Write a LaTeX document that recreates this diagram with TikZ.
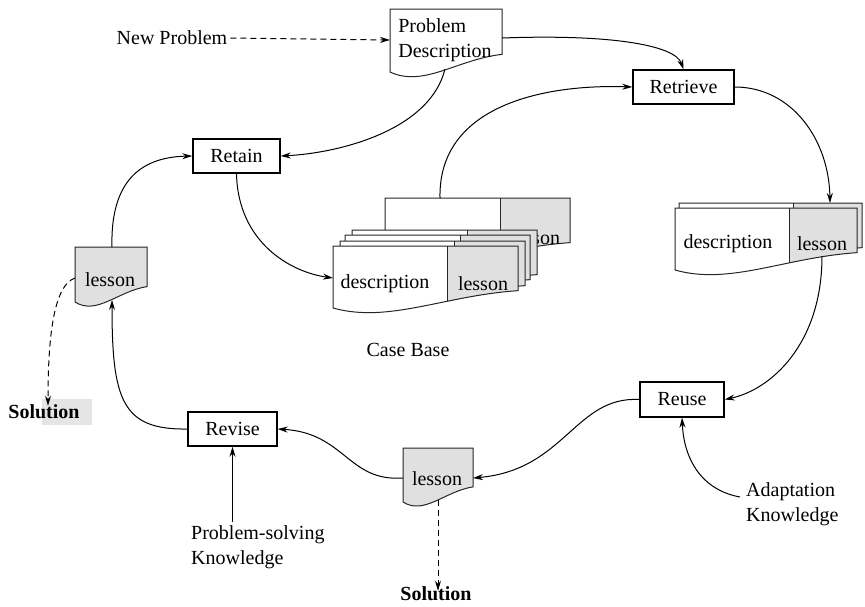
\documentclass[tikz,border=0pt]{standalone}
\usepackage{fontspec}
\setmainfont{Liberation Serif}
\usetikzlibrary{arrows.meta}
\definecolor{lgray}{gray}{0.88}
\definecolor{solgray}{gray}{0.9}
\newcommand\dpath[4]{(#1,#2) -- (#3,#2) -- (#3,{#4-0.28*(#4-#2)}) .. controls ({#1+0.6*(#3-#1)},{#4-0.2*(#4-#2)}) and ({#1+0.3*(#3-#1)},{#4+0.25*(#4-#2)}) .. (#1,#4) -- cycle}
\newcommand\splitdoc[5]{%
  \fill[white] \dpath{#1}{#2}{#3}{#4};
  \begin{scope}
    \clip \dpath{#1}{#2}{#3}{#4};
    \fill[lgray] (#5,#2) rectangle (#3,{#4+40});
    \draw[docline] (#5,#2) -- (#5,{#4+40});
  \end{scope}
  \draw[docline] \dpath{#1}{#2}{#3}{#4};
}
\newcommand\plaindoc[5]{%
  \filldraw[docline, fill=#5] \dpath{#1}{#2}{#3}{#4};
}
\begin{document}
\begin{tikzpicture}[x=1pt,y=-1pt,
  every node/.style={font=\fontsize{20}{25}\selectfont, inner sep=0pt},
  box/.style={draw, line width=1.4pt, fill=white, minimum height=34pt},
  docline/.style={draw=black!85, line width=1pt},
  arr/.style={line width=1pt, -{Stealth[length=10pt,width=6pt]}},
  darr/.style={arr, dash pattern=on 6pt off 4pt}]
\useasboundingbox (0,0) rectangle (865,606);

% ---------- documents ----------
% Problem description
\plaindoc{390}{9}{502}{72}{white}
\node[align=left] (pd) at (445,40) {Problem\\Description};
% right retrieved case
\splitdoc{679}{203}{862}{265}{793}
\splitdoc{675}{208}{857}{270}{789}
\node (rdesc) at (728,244) {description};
\node (rless) at (822,244) {lesson};
% case base stack
\splitdoc{385}{198}{570}{260}{500}
\node (cbback) at (535,238) {lesson};
\splitdoc{352}{230}{537}{292}{467}
\splitdoc{345}{235}{530}{297}{460}
\splitdoc{340}{241}{525}{303}{454}
\splitdoc{333}{246}{518}{308}{447}
\node (cbdesc) at (385,284) {description};
\node (cbless) at (483,284) {lesson};
\node (cb) at (408,350) {Case Base};
% left lesson
\plaindoc{75}{247}{147}{302}{lgray}
\node (lless) at (110,280) {lesson};
% bottom lesson
\plaindoc{403}{448}{473}{502}{lgray}
\node (bless) at (437,479) {lesson};

% ---------- edge coordinates ----------
\coordinate (pdL) at (390,40);
\coordinate (pdR) at (502,38);
\coordinate (pdB) at (445,69);
\coordinate (rdocT) at (830,203);
\coordinate (rlessB) at (822,256);
\coordinate (cbT) at (440,198);
\coordinate (cbL) at (333,278);
\coordinate (llessT) at (112,247);
\coordinate (llessB) at (112,300);
\coordinate (llessL) at (75,278);
\coordinate (blessL) at (403,478);
\coordinate (blessR) at (473,478);
\coordinate (blessB) at (438,500);

% ---------- boxes ----------
\node[box, minimum width=101pt] (retrieve) at (683.5,87) {Retrieve};
\node[box, minimum width=87pt] (retain) at (236.5,156) {Retain};
\node[box, minimum width=89pt] (revise) at (232.5,429) {Revise};
\node[box, minimum width=84pt, minimum height=35pt] (reuse) at (682,399.5) {Reuse};

% ---------- labels ----------
\node (np) at (172,38) {New Problem};
\node[align=left, anchor=west] (adapt) at (746,504) {Adaptation\\Knowledge};
\node[align=left, anchor=west] (psk) at (191,547) {Problem-solving\\Knowledge};
\fill[solgray] (42,399) rectangle (92,425);
\node[font=\fontsize{20}{25}\selectfont\bfseries] (solL) at (44,412) {Solution};
\node[font=\fontsize{20}{25}\selectfont\bfseries] (solB) at (436,594) {Solution};
\coordinate (adaptS) at (740,497);

% ---------- connectors ----------
\draw[darr] (np.east) ++(3,0) -- (pdL);
\draw[arr] (pdR) .. controls (610,34) and (675,45) .. (retrieve.north);
\draw[arr] (retrieve.east) .. controls (792,87) and (829,140) .. (rdocT);
\draw[arr] (rlessB) .. controls (822,345) and (770,390) .. (reuse.east);
\draw[arr] (adaptS) .. controls (702,490) and (684,460) .. (reuse.south);
\draw[arr] (reuse.west) .. controls (575,396) and (565,470) .. (blessR);
\draw[arr] (blessL) .. controls (348,482) and (345,433) .. (revise.east);
\draw[arr, line width=1.3pt] (revise.south |- psk.north) ++(0,-3) -- (revise.south);
\draw[arr] (revise.west) .. controls (122,430) and (112,400) .. (llessB);
\draw[arr] (llessT) .. controls (110,172) and (150,157) .. (retain.west);
\draw[arr] (pdB) .. controls (430,130) and (340,153) .. (retain.east);
\draw[arr] (retain.south) .. controls (238,242) and (290,272) .. (cbL);
\draw[arr] (cbT) .. controls (438,105) and (545,84) .. (retrieve.west);
\draw[darr] (llessL) .. controls (55,285) and (48,330) .. ([xshift=4pt,yshift=-1pt]solL.north);
\draw[darr] (blessB) -- ([xshift=2pt,yshift=-4pt]solB.north);
\end{tikzpicture}
\end{document}
